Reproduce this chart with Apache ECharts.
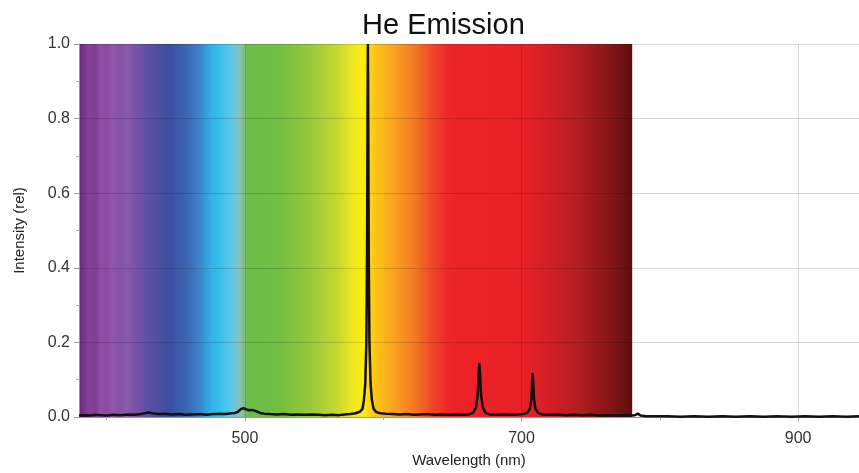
<!DOCTYPE html>
<html>
<head>
<meta charset="utf-8">
<title>He Emission</title>
<script src="https://cdn.jsdelivr.net/npm/echarts@6/dist/echarts.min.js"></script>
<style>
    html, body { margin: 0; padding: 0; background: #fff; }
    #myChart { width: 859px; height: 473px; }
</style>
</head>
<body>
<div id="myChart"></div>
<script>
// wavelength (nm) / relative intensity
const wavelengths = [
    380, 384, 388, 392, 396, 400, 405, 410, 415, 420, 425, 430, 433, 437, 442, 447, 452, 457, 462, 467,
    472, 477, 482, 486, 490, 493, 495, 497, 499, 501, 503, 505, 507, 509, 511, 514, 518, 523, 528, 533,
    538, 543, 548, 553, 558, 563, 568, 572, 576, 580, 583, 585, 586, 587, 587.8, 588.3, 588.7, 588.9, 589.1, 589.5,
    590, 590.8, 591.8, 593, 595, 598, 602, 607, 612, 617, 622, 627, 632, 637, 642, 647, 652, 657, 662, 665,
    667, 668.3, 669, 669.5, 670, 670.7, 672, 674, 677, 682, 687, 692, 697, 701, 704, 706, 707.2, 707.6, 708, 708.5,
    709, 710, 712, 715, 720, 726, 732, 738, 744, 750, 756, 762, 768, 774, 779, 782, 784, 786, 790, 796,
    805, 815, 825, 835, 845, 855, 865, 875, 885, 895, 905, 915, 925, 935, 944
];
const intensities = [
    0.004, 0.005, 0.004, 0.006, 0.005, 0.004, 0.006, 0.005, 0.007, 0.006, 0.008, 0.012, 0.010, 0.008, 0.009, 0.007, 0.008, 0.006, 0.007, 0.008,
    0.006, 0.008, 0.009, 0.008, 0.010, 0.011, 0.014, 0.021, 0.024, 0.020, 0.018, 0.019, 0.017, 0.014, 0.011, 0.009, 0.008, 0.007, 0.008, 0.006,
    0.007, 0.006, 0.007, 0.006, 0.005, 0.006, 0.005, 0.007, 0.008, 0.010, 0.014, 0.022, 0.045, 0.090, 0.20, 0.45, 0.85, 1.0, 0.85, 0.45,
    0.20, 0.090, 0.045, 0.022, 0.013, 0.010, 0.009, 0.008, 0.007, 0.008, 0.006, 0.007, 0.008, 0.006, 0.007, 0.006, 0.007, 0.006, 0.007, 0.011,
    0.025, 0.060, 0.115, 0.144, 0.115, 0.060, 0.025, 0.011, 0.007, 0.006, 0.007, 0.006, 0.007, 0.008, 0.011, 0.022, 0.050, 0.090, 0.118, 0.090,
    0.050, 0.022, 0.011, 0.007, 0.006, 0.007, 0.005, 0.006, 0.005, 0.006, 0.004, 0.005, 0.004, 0.005, 0.004, 0.005, 0.009, 0.004, 0.002, 0.002,
    0.002, 0.001, 0.002, 0.001, 0.002, 0.001, 0.002, 0.001, 0.002, 0.001, 0.002, 0.001, 0.002, 0.001, 0.002
];

// visible spectrum band behind the plot
const bandRange = [380, 780];
const bandWavelengths = [380, 387, 392, 396, 400, 404, 409, 415, 425, 439, 446, 459, 468, 475, 482, 490, 497, 502, 524, 547,
    567, 578, 585, 593, 607, 622, 636, 648, 700, 720, 742, 762, 780];
const bandColors = ['#67287a', '#86409c', '#7e3d95', '#9250a5', '#8a4ba0', '#9158a9', '#8452a6', '#8a5aa9', '#6a50a8', '#4a4fa0',
    '#3a4fa0', '#3c68b4', '#3a88cc', '#30b0e8', '#38c0ee', '#5cc8e8', '#8ac0b0', '#6cbd48', '#72be42', '#98c83c',
    '#c8d830', '#eee620', '#fcee10', '#fdc816', '#f9a51e', '#f47a24', '#ef4526', '#ed2426', '#e82027', '#d41f26',
    '#b01d22', '#8a1618', '#5e0e0e'];

const xMajor = [500, 700, 900];
const xMinor = [400, 600, 800];

const font = '"Liberation Sans", Arial, sans-serif';

let seriesData = wavelengths.map((w, i) => [w, intensities[i]]);
let stops = bandWavelengths.map((w, i) => ({
    offset: (w - bandRange[0]) / (bandRange[1] - bandRange[0]),
    color: bandColors[i]
}));

let myChart = echarts.init(document.getElementById('myChart'));
myChart.setOption({
    animation: false,
    title: {
        text: 'He Emission',
        left: 357,
        top: 6,
        textStyle: {
            fontFamily: font,
            fontSize: 29,
            fontWeight: 'normal',
            color: '#111'
        }
    },
    grid: {
        left: 79,
        right: 0,
        top: 44,
        bottom: 55
    },
    xAxis: [{
        type: 'value',
        min: 380,
        max: 944,
        z: 1.5,
        name: 'Wavelength (nm)',
        nameLocation: 'middle',
        nameGap: 36,
        nameTextStyle: { fontFamily: font, fontSize: 15, color: '#222' },
        axisLine: { show: true, lineStyle: { color: '#999' } },
        axisTick: { show: true, customValues: xMajor, length: 4, lineStyle: { color: '#999' } },
        axisLabel: { customValues: xMajor, margin: 14, fontFamily: font, fontSize: 16, color: '#333' },
        splitLine: { show: true, lineStyle: { color: 'rgba(0,0,0,0.14)', width: 1 } }
    }, {
        // minor ticks only
        type: 'value',
        min: 380,
        max: 944,
        position: 'bottom',
        z: 1.5,
        axisLine: { show: false },
        axisTick: { show: true, customValues: xMinor, length: 3, lineStyle: { color: '#aaa' } },
        axisLabel: { show: false },
        splitLine: { show: false }
    }],
    yAxis: {
        type: 'value',
        min: 0,
        max: 1,
        interval: 0.2,
        z: 1.5,
        name: 'Intensity (rel)',
        nameLocation: 'middle',
        nameGap: 52,
        nameTextStyle: { fontFamily: font, fontSize: 15, color: '#222' },
        axisLine: { show: true, lineStyle: { color: '#999' } },
        axisTick: { show: true, length: 5, lineStyle: { color: '#999' } },
        minorTick: { show: true, splitNumber: 2, length: 3, lineStyle: { color: '#aaa' } },
        axisLabel: {
            margin: 9,
            fontFamily: font,
            fontSize: 16,
            color: '#333',
            formatter: (v) => v.toFixed(1)
        },
        splitLine: { show: true, lineStyle: { color: 'rgba(0,0,0,0.14)', width: 1 } }
    },
    series: [{
        type: 'line',
        data: seriesData,
        showSymbol: false,
        z: 3,
        lineStyle: { color: '#111', width: 2.5 },
        markArea: {
            silent: true,
            z: 1,
            itemStyle: {
                color: {
                    type: 'linear', x: 0, y: 0, x2: 1, y2: 0,
                    colorStops: stops
                }
            },
            data: [[{ xAxis: bandRange[0], yAxis: 0 }, { xAxis: bandRange[1], yAxis: 1 }]]
        }
    }]
});
</script>
</body>
</html>
